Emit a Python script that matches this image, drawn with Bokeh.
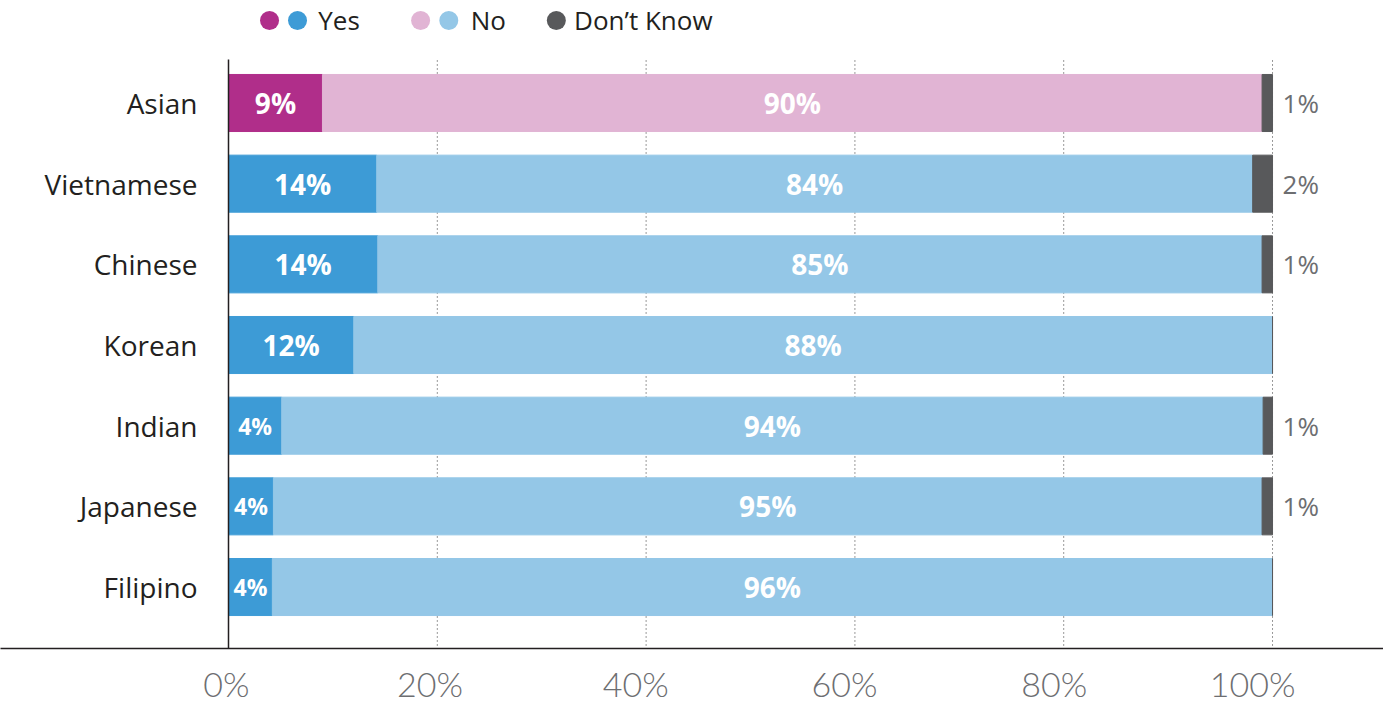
from bokeh.plotting import figure
from bokeh.models import Range1d, FixedTicker, ColumnDataSource
from bokeh.core.properties import value
from bokeh.embed import file_html
from bokeh.resources import INLINE

categories = ["Asian", "Vietnamese", "Chinese", "Korean", "Indian", "Japanese", "Filipino"]
yes_vals = [9.0, 14.2, 14.3, 12.0, 5.1, 4.3, 4.2]
no_vals = [90.0, 83.9, 84.7, 88.0, 94.0, 94.7, 95.8]
dk_vals = [1.0, 1.9, 1.0, 0.0, 0.9, 1.0, 0.0]
yes_labels = ["9%", "14%", "14%", "12%", "4%", "4%", "4%"]
no_labels = ["90%", "84%", "85%", "88%", "94%", "95%", "96%"]
dk_labels = ["1%", "2%", "1%", "", "1%", "1%", ""]
x_ticks = [0, 20, 40, 60, 80, 100]
x_tick_labels = ["0%", "20%", "40%", "60%", "80%", "100%"]
# where the tick labels sit in the picture (they are slightly left of their gridlines)
x_tick_label_pos = [-0.2, 19.3, 39.0, 59.0, 79.1, 98.1]
legend_labels = ["Yes", "No", "Don\u2019t Know"]

MAGENTA = "#B02E8A"
PINK = "#E1B4D4"
BLUE = "#3D9BD6"
LBLUE = "#94C7E7"
DKGRAY = "#58595B"
TXT = "#231F20"
FONT = "Open Sans"

n = len(categories)
ys = list(range(n))
yes_col = [MAGENTA] + [BLUE] * (n - 1)
no_col = [PINK] + [LBLUE] * (n - 1)
no_left = yes_vals
no_right = [a + b for a, b in zip(yes_vals, no_vals)]
dk_right = [a + b for a, b in zip(no_right, dk_vals)]

p = figure(width=1383, height=707, output_backend="svg", toolbar_location=None,
           x_range=Range1d(-21.839, 110.63), y_range=Range1d(6.762, -1.2706),
           min_border_left=0, min_border_right=0, min_border_top=0, min_border_bottom=59)
p.outline_line_color = None
p.grid.visible = False
p.yaxis.visible = False

# gridlines (dotted)
grid_x = [t for t in x_ticks if t > 0]
p.segment(x0=grid_x, x1=grid_x, y0=[-0.527] * len(grid_x), y1=[7.0] * len(grid_x),
          line_color="#333333", line_width=1, line_dash="1 3")

src = ColumnDataSource(dict(y=ys, yes=yes_vals, nl=no_left, nr=no_right, dr=dk_right,
                            yc=yes_col, nc=no_col,
                            yl=yes_labels, nlab=no_labels, dl=dk_labels,
                            nmid=[(a + b) / 2 for a, b in zip(no_left, no_right)],
                            cat=categories))
p.hbar(y="y", left=0, right="yes", height=0.707, color="yc", source=src)
p.hbar(y="y", left="nl", right="nr", height=0.707, color="nc", source=src)
p.hbar(y="y", left="nr", right="dr", height=0.707, color=DKGRAY, source=src)

# left axis line
p.segment(x0=[0], x1=[0], y0=[-0.54], y1=[7.0], line_color=TXT, line_width=1.5)

# category labels
p.text(x=-2.97, y="y", text="cat", source=src, text_align="right", text_baseline="middle",
       text_font=value(FONT), text_font_size="28px", text_color=TXT)

# in-bar labels
big = [i for i in range(n) if yes_vals[i] >= 6]
small = [i for i in range(n) if yes_vals[i] < 6]
p.text(x=[yes_vals[i] / 2 for i in big], y=[ys[i] for i in big], text=[yes_labels[i] for i in big],
       text_align="center", text_baseline="middle", text_font=value(FONT), text_font_style="bold",
       text_font_size="28px", text_color="white")
p.text(x=[yes_vals[i] / 2 for i in small], y=[ys[i] for i in small], text=[yes_labels[i] for i in small],
       text_align="center", text_baseline="middle", text_font=value(FONT), text_font_style="bold",
       text_font_size="23px", text_color="white")
p.text(x="nmid", y="y", text="nlab", source=src, text_align="center", text_baseline="middle",
       text_font=value(FONT), text_font_style="bold", text_font_size="28px", text_color="white")
p.text(x=100.96, y="y", text="dl", source=src, text_align="left", text_baseline="middle",
       text_font=value(FONT), text_font_size="26px", text_color="#6D6E71")

# legend
ly = -1.0227
p.scatter(x=[3.93, 6.61, 18.4, 21.1, 31.4], y=[ly] * 5, size=19,
          color=[MAGENTA, BLUE, PINK, LBLUE, DKGRAY], line_color=None)
p.text(x=[8.6, 23.2, 33.1], y=[ly] * 3, text=legend_labels,
       text_align="left", text_baseline="middle", text_font=value(FONT),
       text_font_size="26px", text_color=TXT)

# x axis
ax = p.xaxis[0]
ax.ticker = FixedTicker(ticks=x_tick_label_pos)
ax.major_label_overrides = {pos: lab for pos, lab in zip(x_tick_label_pos, x_tick_labels)}
ax.major_tick_line_color = None
ax.minor_tick_line_color = None
ax.axis_line_color = TXT
ax.axis_line_width = 1.5
ax.major_label_text_font = "Lato Light"
ax.major_label_text_font_size = "34px"
ax.major_label_text_color = "#6D6E71"
ax.major_label_standoff = 8

open("out.html", "w").write(file_html(p, INLINE))
